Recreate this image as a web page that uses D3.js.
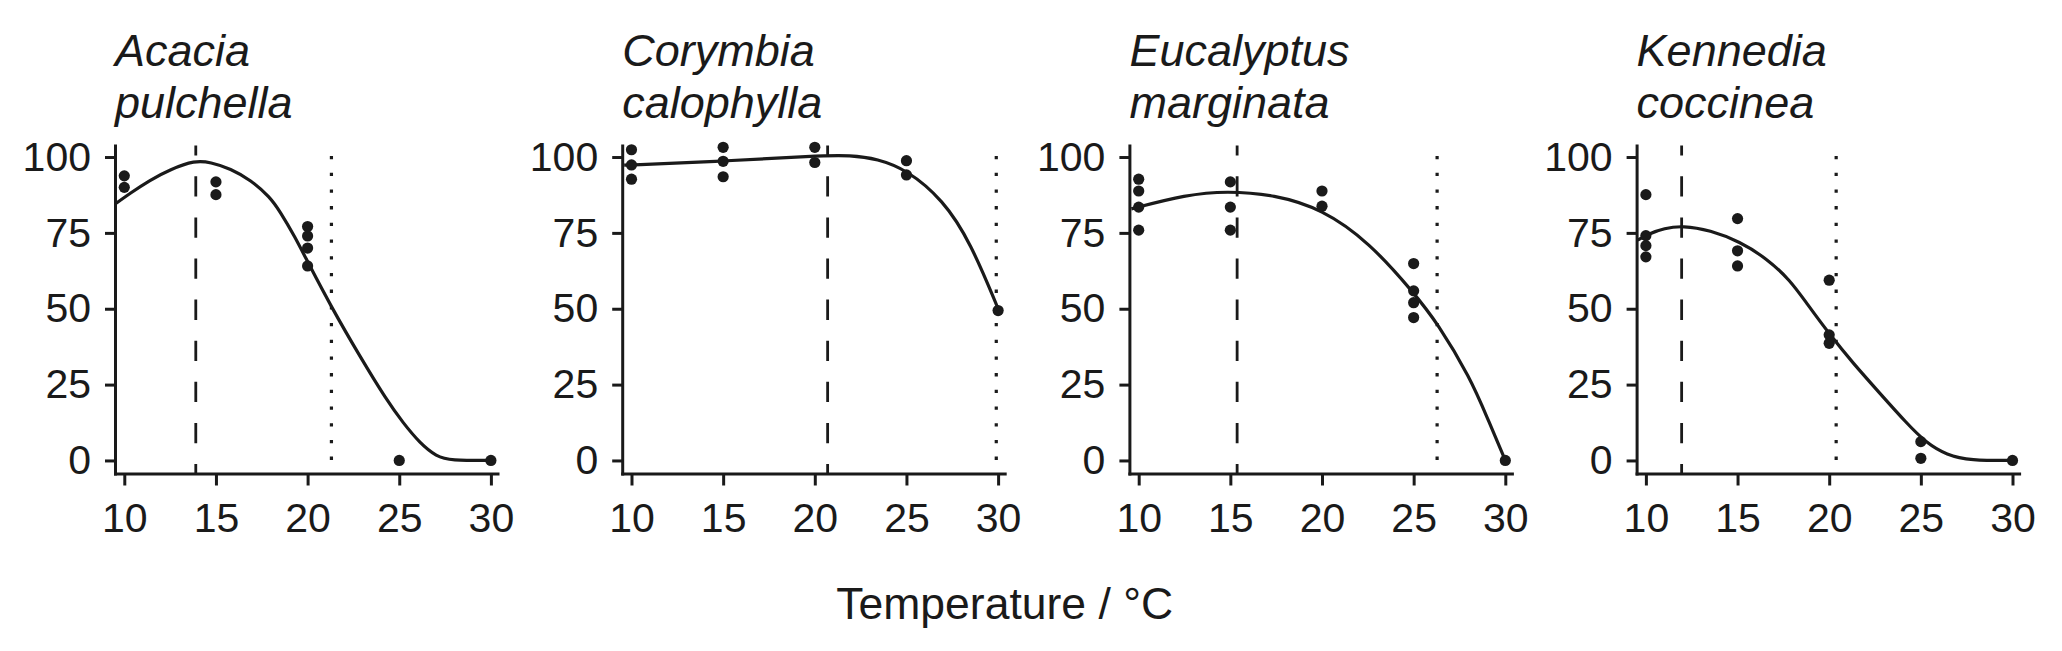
<!DOCTYPE html>
<html><head><meta charset="utf-8">
<script src="https://cdn.jsdelivr.net/npm/d3@7"></script>
<style>html,body{margin:0;padding:0;background:#fff;}svg{display:block;}</style>
</head><body>
<svg id="chart" width="2062" height="651"></svg>
<script>
// ---- data ----
const species = [["Acacia","pulchella"],["Corymbia","calophylla"],["Eucalyptus","marginata"],["Kennedia","coccinea"]];
const xTicks = [10,15,20,25,30];
const yTicks = [0,25,50,75,100];
const xLabel = "Temperature / °C";

// observed points [temperature, value]
const pts1 = [[10,93.8],[10,90.0],[15,91.8],[15,87.6],[20,77.1],[20,74.0],[20,70.0],[20,64.1],[25,0],[30,0]];
const pts2 = [[10,102.4],[10,97.4],[10,92.7],[15,103.2],[15,98.6],[15,93.5],[20,103.2],[20,98.2],[25,98.8],[25,94.1],[30,49.4]];
const pts3 = [[10,92.7],[10,88.8],[10,83.5],[10,75.9],[15,91.8],[15,83.5],[15,75.9],[20,88.8],[20,83.8],[25,64.9],[25,55.9],[25,52.0],[25,47.1],[30,0]];
const pts4 = [[10,87.6],[10,74.1],[10,70.8],[10,67.1],[15,79.7],[15,69.1],[15,64.1],[20,59.4],[20,41.4],[20,38.6],[25,6.2],[25,0.7],[30,0]];

// fitted curves
const fit1 = [[9.5,84.5],[10.3,88.0],[11.4,92.4],[12.5,95.9],[13.86,98.9],[14.7,98.3],[15.8,96.2],[16.9,92.4],[17.95,86.8],[18.5,82.0],[19.3,73.8],[20.0,65.5],[21.3,50.5],[22.86,34.2],[24.31,19.9],[25.22,12.3],[26.13,5.7],[27.04,1.25],[27.8,0],[30,0]];
const fit2 = [[9.6,97.3],[15,98.6],[20,100.4],[22,100.6],[23.4,99.4],[25,95.9],[27,85.9],[28.5,71.8],[30,50.0]];
const fit3 = [[9.6,82.9],[12.6,87.6],[14.8,88.8],[17.4,87.6],[20,82.9],[22.6,71.8],[25,55.3],[26.3,45.3],[28.1,27.1],[29.0,14.3],[30,0]];
const fit4 = [[9.55,72.6],[10.15,74.7],[11.0,76.5],[12.0,77.4],[13.5,75.9],[15.13,72.1],[16.58,66.6],[17.86,59.5],[18.77,51.8],[20.04,41.4],[21.31,32.0],[22.77,22.1],[24.22,12.3],[25.31,5.7],[26.41,1.8],[27.7,0],[30,0]];

// threshold lines
const dashedX = [13.9, 20.7, 15.37, 11.95];
const dottedX = [21.3, 29.9, 26.28, 20.38];

const pointsAll = [pts1, pts2, pts3, pts4];
const fitsAll = [fit1, fit2, fit3, fit4];

// ---- layout ----
const ink = "#1a1a1a";
const svg = d3.select("#chart");
const panelLeft0 = 115, panelStep = 507.2, panelW = 382.5;
const yTop = 145.5, yBot = 473.5;

const y = d3.scaleLinear().domain([-4.3, 103.8]).range([yBot, yTop]);

species.forEach((sp, i) => {
  const left = panelLeft0 + i * panelStep;
  const x = d3.scaleLinear().domain([9.493, 30.36]).range([left, left + panelW]);
  const g = svg.append("g");

  // vertical reference lines
  g.append("line").attr("x1", x(dashedX[i])).attr("x2", x(dashedX[i]))
    .attr("y1", yTop).attr("y2", yBot)
    .attr("stroke", ink).attr("stroke-width", 2.8)
    .attr("stroke-dasharray", "20.3,20.8").attr("stroke-dashoffset", 10.3);
  g.append("line").attr("x1", x(dottedX[i])).attr("x2", x(dottedX[i]))
    .attr("y1", yTop).attr("y2", yBot)
    .attr("stroke", ink).attr("stroke-width", 3.2)
    .attr("stroke-dasharray", "3.3,13.4").attr("stroke-dashoffset", 6.2);

  // fitted curve
  g.append("path").datum(fitsAll[i])
    .attr("d", d3.line().x(d => x(d[0])).y(d => y(d[1])).curve(d3.curveBasis))
    .attr("fill", "none").attr("stroke", ink).attr("stroke-width", 3.2)
    .attr("stroke-linejoin", "round");

  // points
  g.selectAll("circle.pt").data(pointsAll[i]).enter().append("circle")
    .attr("cx", d => x(d[0])).attr("cy", d => y(d[1])).attr("r", 5.6).attr("fill", ink);

  // axes
  const ax = g.append("g").attr("transform", `translate(0,${yBot})`)
    .call(d3.axisBottom(x).tickValues(xTicks).tickSize(12).tickSizeOuter(0).tickPadding(17));
  const ay = g.append("g").attr("transform", `translate(${left},0)`)
    .call(d3.axisLeft(y).tickValues(yTicks).tickSize(10).tickSizeOuter(0).tickPadding(14));
  [ax, ay].forEach(a => {
    a.select(".domain").attr("stroke", ink).attr("stroke-width", 3).attr("stroke-linecap", "square");
    a.selectAll(".tick line").attr("stroke", ink).attr("stroke-width", 3);
    a.selectAll(".tick text").attr("fill", ink)
      .style("font-family", "'Liberation Sans', Arial, sans-serif").style("font-size", "41px");
  });

  // title (italic, two lines)
  const t = g.append("text").attr("x", left).attr("y", 66)
    .attr("fill", ink).style("font-family", "'Liberation Sans', Arial, sans-serif")
    .style("font-size", "45px").style("font-style", "italic");
  t.append("tspan").attr("x", left).attr("y", 66).text(sp[0]);
  t.append("tspan").attr("x", left).attr("y", 118).text(sp[1]);
});

svg.append("text").attr("x", 1004.7).attr("y", 619).attr("text-anchor", "middle")
  .attr("fill", ink).style("font-family", "'Liberation Sans', Arial, sans-serif")
  .style("font-size", "44.5px").text(xLabel);
</script>
</body></html>
